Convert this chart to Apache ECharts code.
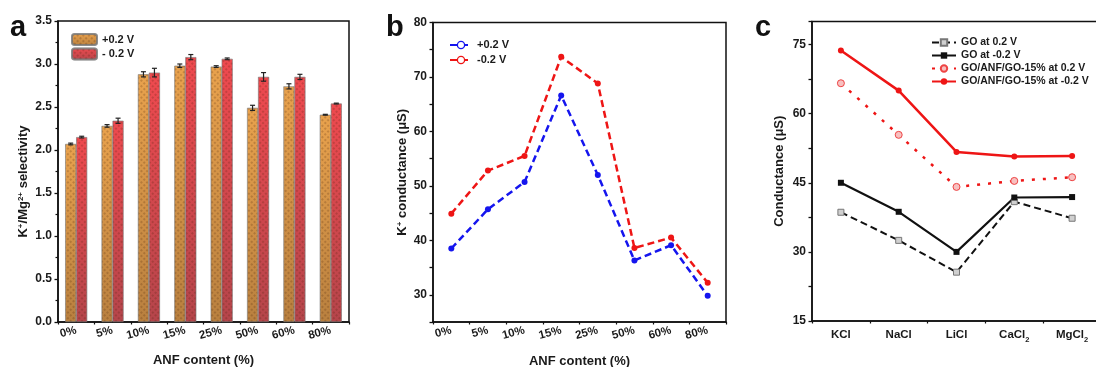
<!DOCTYPE html>
<html><head><meta charset="utf-8">
<script src="https://cdn.jsdelivr.net/npm/echarts@6/dist/echarts.min.js"></script>
<style>html,body{margin:0;padding:0;background:#fff}#c{width:1096px;height:367px}</style>
</head><body><div id="c"></div>
<script>
// ---- data ----
const anfCats = ['0%', '5%', '10%', '15%', '25%', '50%', '60%', '80%'];
const selPos = [2.07, 2.28, 2.88, 2.98, 2.97, 2.49, 2.74, 2.41];
const selNeg = [2.15, 2.34, 2.90, 3.08, 3.06, 2.85, 2.85, 2.54];
const errPos = [0.01, 0.015, 0.03, 0.02, 0.01, 0.03, 0.03, 0.005];
const errNeg = [0.01, 0.03, 0.05, 0.03, 0.01, 0.05, 0.03, 0.005];

const condPos = [38.5, 45.7, 50.7, 66.6, 52.0, 36.3, 39.1, 29.8];
const condNeg = [44.9, 52.8, 55.5, 73.7, 68.8, 38.6, 40.5, 32.2];

const salts = ['KCl', 'NaCl', 'LiCl', 'CaCl2', 'MgCl2'];
const goPos = [38.6, 32.5, 25.6, 40.9, 37.3];
const goNeg = [45.0, 38.7, 30.0, 41.8, 41.9];
const anfPos = [66.6, 55.4, 44.1, 45.4, 46.2];
const anfNeg = [73.7, 65.0, 51.7, 50.7, 50.8];

const yTicksA = [0, 3.5, 0.5];
const yTicksB = [25, 80, 5];
const yTicksC = [15, 80, 7.5];

// ---- style ----
const FONT = '"Liberation Sans", Arial, sans-serif';
const TXT = '#1a1a1a';
const AX = '#111';
const BAR_W = 11;

const chart = echarts.init(document.getElementById('c'), null, {renderer: 'canvas'});

function grad(top, bottom) {
  return new echarts.graphic.LinearGradient(0, 0, 0, 1, [
    {offset: 0, color: top}, {offset: 1, color: bottom}
  ]);
}
const decal = {
  symbol: 'rect', symbolSize: 1, dashArrayX: [2, 2], dashArrayY: [2, 2],
  rotation: Math.PI / 4, color: 'rgba(70,30,10,0.22)'
};

function labelStyle(extra) {
  return Object.assign({color: TXT, fontFamily: FONT, fontWeight: 'bold', fontSize: 12}, extra || {});
}
function nameStyle(extra) {
  return Object.assign({color: TXT, fontFamily: FONT, fontWeight: 'bold', fontSize: 13}, extra || {});
}
const richName = {
  n: {fontFamily: FONT, fontWeight: 'bold', fontSize: 13, color: TXT},
  s: {fontFamily: FONT, fontWeight: 'bold', fontSize: 8, color: TXT, verticalAlign: 'top'}
};
const stripPrefix = name => name.replace(/^[a-z]:/, '');

function mainX(grid, data, opts) {
  return Object.assign({
    type: 'category', gridIndex: grid, data: data,
    axisLine: {lineStyle: {color: AX, width: 1.5}},
    axisTick: {alignWithLabel: true, length: 4, interval: 0, lineStyle: {color: AX, width: 1.3}},
    axisLabel: labelStyle({fontSize: 11.5, interval: 0, margin: 8}),
    splitLine: {show: false}
  }, opts);
}
function minorX(grid, data) {
  return {
    type: 'category', gridIndex: grid, data: data, position: 'bottom',
    axisLine: {show: false},
    axisTick: {show: true, length: 2.5, interval: 0, lineStyle: {color: AX, width: 1.2}},
    axisLabel: {show: false}, splitLine: {show: false}
  };
}
function yAx(grid, t, fmt, opts) {
  return Object.assign({
    type: 'value', gridIndex: grid, min: t[0], max: t[1], interval: t[2],
    axisLine: {show: true, lineStyle: {color: AX, width: 1.5}},
    axisTick: {show: true, length: 3.5, lineStyle: {color: AX, width: 1.3}},
    axisLabel: labelStyle({formatter: fmt, margin: 6}),
    splitLine: {show: false},
    nameLocation: 'middle'
  }, opts);
}

function errItem(dx) {
  return function (params, api) {
    const i = api.value(0);
    const v = api.value(1), e = api.value(2);
    const x = api.coord([i, v])[0] + dx;
    const yh = api.coord([i, v + e])[1];
    const yl = api.coord([i, v - e])[1];
    const cw = 2.5;
    const st = {stroke: '#222', lineWidth: 1.2};
    return {type: 'group', children: [
      {type: 'line', shape: {x1: x, y1: yh, x2: x, y2: yl}, style: st},
      {type: 'line', shape: {x1: x - cw, y1: yh, x2: x + cw, y2: yh}, style: st},
      {type: 'line', shape: {x1: x - cw, y1: yl, x2: x + cw, y2: yl}, style: st}
    ]};
  };
}

const saltFmt = v => {
  const m = v.match(/^(.*?)(2)$/);
  return m ? '{n|' + m[1] + '}{b|2}' : '{n|' + v + '}';
};

const gridBase = {show: true, borderColor: AX, borderWidth: 1.5, backgroundColor: 'transparent',
                  containLabel: false, outerBoundsMode: 'none'};

const option = {
  backgroundColor: '#fff',
  animation: false,
  graphic: [
    {type: 'text', left: 10, top: 13, style: {text: 'a', font: 'bold 29px ' + FONT, fill: '#111'}},
    {type: 'text', left: 386, top: 13, style: {text: 'b', font: 'bold 29px ' + FONT, fill: '#111'}},
    {type: 'text', left: 755, top: 13, style: {text: 'c', font: 'bold 29px ' + FONT, fill: '#111'}}
  ],
  grid: [
    Object.assign({left: 58, top: 21, width: 291, height: 301}, gridBase),
    Object.assign({left: 433, top: 22.5, width: 293, height: 299.5}, gridBase),
    Object.assign({left: 812, top: 21.5, width: 289, height: 299.5}, gridBase)
  ],
  legend: [
    {data: ['a:+0.2 V', 'a:- 0.2 V'], formatter: stripPrefix, left: 71, top: 33, padding: 0,
     orient: 'vertical', itemWidth: 25, itemHeight: 11, itemGap: 1.5,
     textStyle: labelStyle({fontSize: 11}), selectedMode: false},
    {data: [
       {name: 'b:+0.2 V', itemStyle: {color: '#fff', borderColor: '#1515ee', borderWidth: 1.3}},
       {name: 'b:-0.2 V', itemStyle: {color: '#fff', borderColor: '#ee1515', borderWidth: 1.3}}
     ], formatter: stripPrefix, left: 449, top: 39.5, padding: 0,
     orient: 'vertical', itemWidth: 22, itemHeight: 9, itemGap: 4,
     textStyle: labelStyle({fontSize: 11}), selectedMode: false},
    {data: ['GO at 0.2 V', 'GO at -0.2 V', 'GO/ANF/GO-15% at 0.2 V', 'GO/ANF/GO-15% at -0.2 V'],
     left: 931, top: 37, padding: 0, orient: 'vertical', itemWidth: 24, itemHeight: 8, itemGap: 2,
     textStyle: labelStyle({fontSize: 10.5}), selectedMode: false}
  ],
  xAxis: [
    mainX(0, anfCats, {axisLabel: labelStyle({fontSize: 11.5, interval: 0, margin: 8, rotate: 15}),
      name: 'ANF content (%)', nameLocation: 'middle', nameGap: 32, nameTextStyle: nameStyle()}),
    minorX(0, anfCats),
    mainX(1, anfCats, {axisLabel: labelStyle({fontSize: 11.5, interval: 0, margin: 8, rotate: 15}),
      name: 'ANF content (%)', nameLocation: 'middle', nameGap: 33, nameTextStyle: nameStyle()}),
    minorX(1, anfCats),
    mainX(2, salts, {axisLabel: labelStyle({fontSize: 11.5, interval: 0, margin: 8, formatter: saltFmt,
      rich: {n: {fontFamily: FONT, fontWeight: 'bold', fontSize: 11.5, color: TXT},
             b: {fontFamily: FONT, fontWeight: 'bold', fontSize: 7.5, color: TXT, verticalAlign: 'bottom', padding: [0, 0, -3, 0]}}})}),
    minorX(2, salts)
  ],
  yAxis: [
    yAx(0, yTicksA, v => v.toFixed(1), {
      minorTick: {show: true, splitNumber: 2, length: 2.5, lineStyle: {color: AX, width: 1.2}},
      name: '{n|K}{s|+}{n|/Mg}{s|2+}{n| selectivity}', nameGap: 28,
      nameTextStyle: {rich: richName, padding: [0, 0, 0, -20]}}),
    yAx(1, yTicksB, v => (v % 10 === 0 ? String(v) : ''), {
      name: '{n|K}{s|+}{n| conductance (μS)}', nameGap: 24, nameTextStyle: {rich: richName}}),
    yAx(2, yTicksC, v => (v % 15 === 0 && v < 80 ? String(v) : ''), {
      name: 'Conductance (μS)', nameGap: 26, nameTextStyle: nameStyle()})
  ],
  series: [
    {type: 'bar', name: 'a:+0.2 V', xAxisIndex: 0, yAxisIndex: 0, data: selPos, barWidth: BAR_W, barGap: '0%',
     itemStyle: {color: grad('#e9a24d', '#b9803f'), borderColor: 'rgba(120,120,120,0.6)', borderWidth: 0.6, decal: decal}},
    {type: 'bar', name: 'a:- 0.2 V', xAxisIndex: 0, yAxisIndex: 0, data: selNeg, barWidth: BAR_W, barGap: '0%',
     itemStyle: {color: grad('#ef4a4f', '#b5454b'), borderColor: 'rgba(120,120,120,0.6)', borderWidth: 0.6, decal: decal}},
    {type: 'custom', xAxisIndex: 0, yAxisIndex: 0, z: 10, renderItem: errItem(-BAR_W / 2),
     data: selPos.map((v, i) => [i, v, errPos[i]]), encode: {x: 0, y: 1}},
    {type: 'custom', xAxisIndex: 0, yAxisIndex: 0, z: 10, renderItem: errItem(BAR_W / 2),
     data: selNeg.map((v, i) => [i, v, errNeg[i]]), encode: {x: 0, y: 1}},

    {type: 'line', name: 'b:+0.2 V', xAxisIndex: 2, yAxisIndex: 1, data: condPos,
     symbol: 'circle', symbolSize: 6, itemStyle: {color: '#1515ee'},
     lineStyle: {color: '#1515ee', width: 2.5, type: [7, 4]}},
    {type: 'line', name: 'b:-0.2 V', xAxisIndex: 2, yAxisIndex: 1, data: condNeg,
     symbol: 'circle', symbolSize: 6, itemStyle: {color: '#ee1515'},
     lineStyle: {color: '#ee1515', width: 2.5, type: [7, 4]}},

    {type: 'line', name: 'GO at 0.2 V', xAxisIndex: 4, yAxisIndex: 2, data: goPos,
     symbol: 'rect', symbolSize: 6, itemStyle: {color: '#d0d0d0', borderColor: '#777', borderWidth: 1},
     lineStyle: {color: '#111', width: 2, type: [7, 4]}},
    {type: 'line', name: 'GO at -0.2 V', xAxisIndex: 4, yAxisIndex: 2, data: goNeg,
     symbol: 'rect', symbolSize: 6, itemStyle: {color: '#111'},
     lineStyle: {color: '#111', width: 2.2}},
    {type: 'line', name: 'GO/ANF/GO-15% at 0.2 V', xAxisIndex: 4, yAxisIndex: 2, data: anfPos,
     symbol: 'circle', symbolSize: 7, itemStyle: {color: '#f7c0c0', borderColor: '#ee4444', borderWidth: 1},
     lineStyle: {color: '#ee1515', width: 2.5, type: [3, 8]}},
    {type: 'line', name: 'GO/ANF/GO-15% at -0.2 V', xAxisIndex: 4, yAxisIndex: 2, data: anfNeg,
     symbol: 'circle', symbolSize: 6, itemStyle: {color: '#ee1515'},
     lineStyle: {color: '#ee1515', width: 2.5}}
  ]
};
chart.setOption(option);
</script></body></html>
